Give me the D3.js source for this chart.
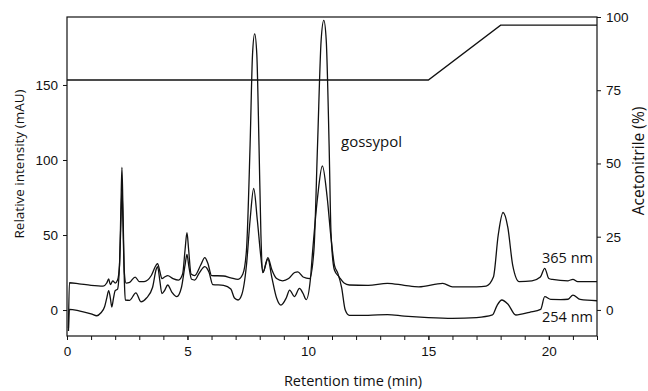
<!DOCTYPE html>
<html>
<head>
<meta charset="utf-8" />
<script src="https://d3js.org/d3.v7.min.js"></script>
<style>
    body { margin: 0; background: #fff; }
    svg { font-family: "Open Sans", sans-serif; }
    .axis text { font-size: 13.5px; fill: #111; }
    .axis path, .axis line { stroke: #111; }
</style>
</head>
<body>
<div id="visu"></div>
<script>

    // Chart size
    const largeur = 648;
    const hauteur = 391;
    const marge = {haut: 17, droite: 51, bas: 55, gauche: 67};

    // Trace at 365 nm : retention time (min) and intensity (mAU)
    const t365 = [0.06, 0.1, 0.5, 1.0, 1.5, 1.65, 1.73, 1.8, 1.9, 2.0, 2.1, 2.18, 2.24, 2.28, 2.32, 2.38, 2.45, 2.6, 2.83, 3.0,
        3.2, 3.5, 3.7, 3.76, 3.85, 3.94, 4.05, 4.18, 4.4, 4.63, 4.8, 4.9, 4.98, 5.05, 5.15, 5.3, 5.55, 5.72, 5.85, 6.0,
        6.5, 6.8, 7.1, 7.3, 7.45, 7.6, 7.7, 7.79, 7.88, 7.97, 8.05, 8.13, 8.34, 8.5, 8.7, 8.95, 9.2, 9.45, 9.58, 9.8,
        10.07, 10.25, 10.4, 10.55, 10.66, 10.76, 10.88, 10.96, 11.1, 11.3, 11.5, 11.72, 12.5, 13.3, 14.0, 14.6, 15.6, 16.0, 17.0, 17.4,
        17.7, 17.9, 18.1, 18.3, 18.5, 18.77, 19.3, 19.65, 19.83, 20.0, 20.15, 20.8, 21.0, 21.2, 22.0];
    const v365 = [-12, 18.2, 17.5, 16.5, 16, 18, 20.7, 17, 19.5, 18, 20, 30, 70, 95, 70, 25, 18, 18.5, 22, 19,
        19, 23, 30, 31, 26, 21, 22, 23, 21, 20, 24, 40, 51.5, 40, 24, 23, 30, 35, 31, 23,
        22.7, 21.5, 20.5, 24, 40, 110, 170, 184, 170, 110, 50, 25, 35, 27, 21, 19.5, 21, 25, 25.5, 22,
        21, 40, 110, 180, 193, 180, 110, 51, 26.7, 22, 18, 16.7, 16.5, 17.8, 16.5, 15.5, 17.8, 15.5, 15.5, 16,
        22, 50, 65, 55, 30, 19, 19.5, 22, 27.8, 21, 20.4, 19.5, 20.5, 19, 19];

    // Trace at 254 nm
    const t254 = [0.06, 0.1, 0.5, 1.0, 1.24, 1.4, 1.56, 1.65, 1.73, 1.8, 1.86, 1.93, 2.0, 2.1, 2.18, 2.24, 2.28, 2.32, 2.38, 2.42,
        2.6, 2.86, 3.07, 3.3, 3.55, 3.7, 3.76, 3.85, 3.94, 4.05, 4.18, 4.35, 4.56, 4.75, 4.9, 4.98, 5.05, 5.17, 5.3, 5.5,
        5.72, 5.9, 6.05, 6.5, 6.8, 6.95, 7.1, 7.25, 7.45, 7.6, 7.75, 7.9, 8.05, 8.13, 8.34, 8.5, 8.7, 8.88, 9.1, 9.24,
        9.44, 9.65, 9.8, 9.93, 10.1, 10.2, 10.4, 10.6, 10.8, 10.96, 11.1, 11.24, 11.4, 11.55, 11.72, 12.5, 13.3, 14.0, 15.0, 16.0,
        17.0, 17.66, 17.85, 18.05, 18.3, 18.63, 19.2, 19.66, 19.83, 20.08, 20.5, 20.8, 21.0, 21.3, 22.0];
    const v254 = [-14, 0.5, -0.5, -2.5, -3.8, -2, 2.2, 8, 13, 8, 2, 8, 13, 14, 30, 60, 80, 60, 20, 6.7,
        6.5, 11.5, 5.5, 8, 15, 27, 29, 20, 11, 13, 16.7, 12, 9, 15, 30, 37, 30, 20.5, 20, 25,
        29, 25, 17, 16.5, 14, 8, 6.7, 10, 30, 60, 81, 60, 35, 25, 34, 22, 8, 3.3, 8, 13.3,
        9, 14.4, 11, 7, 20, 40, 75, 96, 75, 48, 30, 24.6, 15, 0, -3.5, -3.5, -3, -4, -5, -5.5,
        -5, -3.3, 3, 6.7, 4, -3.3, -1.5, 0.4, 8.9, 7.1, 7, 7.2, 10, 7.1, 6.2];

    // Acetonitrile gradient (%)
    const tGradient = [0, 15, 18, 22];
    const pGradient = [78.5, 78.5, 97.2, 97.2];

    // Ticks
    const ticksX = [0, 5, 10, 15, 20];
    const ticksXMinor = d3.range(0, 23, 1);
    const ticksGauche = [0, 50, 100, 150];
    const ticksDroite = [0, 25, 50, 75, 100];

    var svg = d3.select('#visu')
        .append('svg')
        .attr('width', largeur)
        .attr('height', hauteur);

    // Scales
    const echelleX = d3.scaleLinear()
        .domain([0, 22])
        .range([marge.gauche, largeur - marge.droite]);

    const echelleY = d3.scaleLinear()
        .domain([-17.3, 195.3])
        .range([hauteur - marge.bas, marge.haut]);

    const echelleY2 = d3.scaleLinear()
        .domain([-8.9, 100])
        .range([hauteur - marge.bas, marge.haut]);

    // Frame
    svg.append('rect')
        .attr('x', marge.gauche)
        .attr('y', marge.haut)
        .attr('width', largeur - marge.droite - marge.gauche)
        .attr('height', hauteur - marge.bas - marge.haut)
        .attr('fill', 'none')
        .attr('stroke', '#111')
        .attr('stroke-width', 1.2);

    // Axes
    svg.append('g')
        .attr('class', 'axis')
        .attr('transform', `translate(0, ${hauteur - marge.bas})`)
        .call(d3.axisBottom(echelleX).tickValues(ticksXMinor).tickSize(4).tickFormat(''))
        .call(g => g.select('.domain').remove());

    svg.append('g')
        .attr('class', 'axis')
        .attr('transform', `translate(0, ${hauteur - marge.bas})`)
        .call(d3.axisBottom(echelleX).tickValues(ticksX).tickSize(4).tickPadding(6).tickFormat(d3.format('d')))
        .call(g => g.select('.domain').remove());

    svg.append('g')
        .attr('class', 'axis')
        .attr('transform', `translate(${marge.gauche}, 0)`)
        .call(d3.axisLeft(echelleY).tickValues(ticksGauche).tickSize(4).tickPadding(5))
        .call(g => g.select('.domain').remove());

    svg.append('g')
        .attr('class', 'axis')
        .attr('transform', `translate(${largeur - marge.droite}, 0)`)
        .call(d3.axisRight(echelleY2).tickValues(ticksDroite).tickSize(4).tickPadding(5))
        .call(g => g.select('.domain').remove());

    // Axis titles
    svg.append('text')
        .attr('transform', 'translate(24, 164) rotate(-90)')
        .attr('text-anchor', 'middle')
        .attr('font-size', 13.5)
        .attr('fill', '#111')
        .text('Relative intensity (mAU)');

    svg.append('text')
        .attr('transform', 'translate(644, 161) rotate(-90)')
        .attr('text-anchor', 'middle')
        .attr('font-size', 15.5)
        .attr('fill', '#111')
        .text('Acetonitrile (%)');

    svg.append('text')
        .attr('x', 353)
        .attr('y', 386)
        .attr('text-anchor', 'middle')
        .attr('font-size', 14.5)
        .attr('fill', '#111')
        .text('Retention time (min)');

    // Lines
    const ligneGen = d3.line()
        .x(d => echelleX(d[0]))
        .y(d => echelleY(d[1]))
        .curve(d3.curveMonotoneX);

    const ligneGradient = d3.line()
        .x(d => echelleX(d[0]))
        .y(d => echelleY2(d[1]));

    svg.append('path')
        .datum(d3.zip(tGradient, pGradient))
        .attr('d', ligneGradient)
        .attr('fill', 'none')
        .attr('stroke', '#111')
        .attr('stroke-width', 1.3);

    [[t365, v365], [t254, v254]].forEach(serie => {
        svg.append('path')
            .datum(d3.zip(serie[0], serie[1]))
            .attr('d', ligneGen)
            .attr('fill', 'none')
            .attr('stroke', '#111')
            .attr('stroke-width', 1.3)
            .attr('stroke-linejoin', 'round');
    });

    // Labels
    svg.append('text')
        .attr('x', 341)
        .attr('y', 147)
        .attr('font-size', 15)
        .attr('fill', '#111')
        .text('gossypol');

    svg.append('text')
        .attr('x', 593)
        .attr('y', 263)
        .attr('text-anchor', 'end')
        .attr('font-size', 14.5)
        .attr('fill', '#111')
        .text('365 nm');

    svg.append('text')
        .attr('x', 593)
        .attr('y', 322)
        .attr('text-anchor', 'end')
        .attr('font-size', 14.5)
        .attr('fill', '#111')
        .text('254 nm');

</script>
</body>
</html>
